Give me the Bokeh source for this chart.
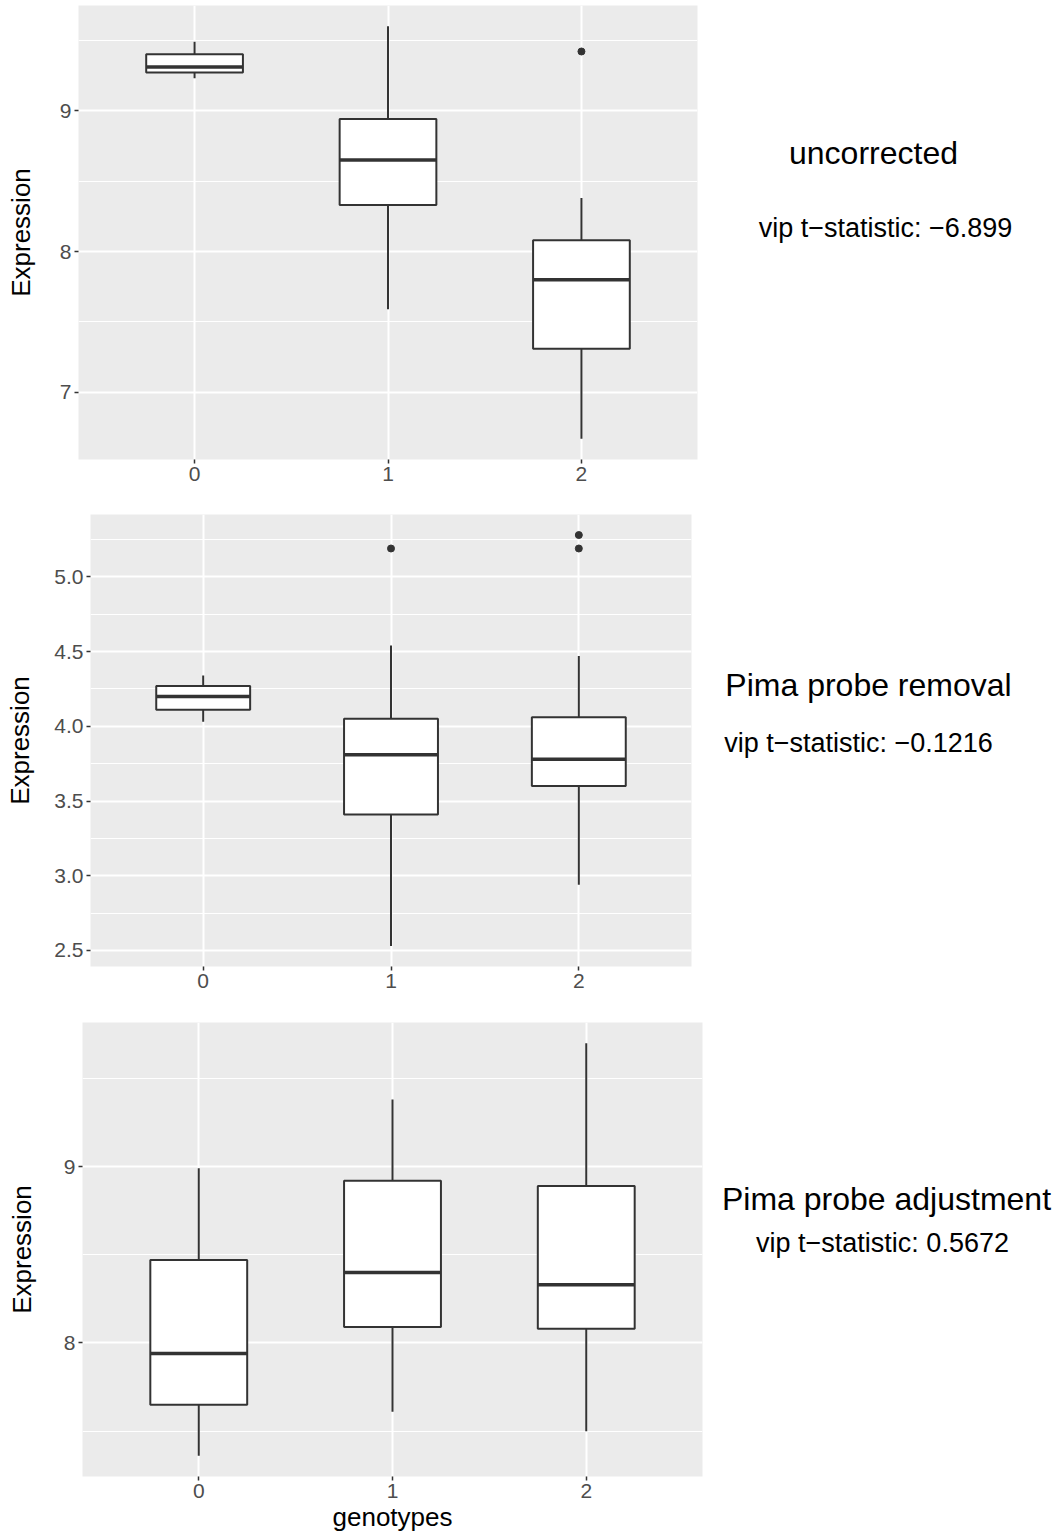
from bokeh.plotting import figure
from bokeh.layouts import column, row
from bokeh.models import FixedTicker, Range1d, Label, NumeralTickFormatter
from bokeh.embed import file_html
from bokeh.resources import INLINE

FONT = "Liberation Sans"
genotypes = [0, 1, 2]
tick_labels = ["0", "1", "2"]

# --- uncorrected expression summary per genotype ---
unc_lower = [9.23, 7.59, 6.67]
unc_q1 = [9.27, 8.33, 7.31]
unc_median = [9.31, 8.65, 7.80]
unc_q3 = [9.40, 8.94, 8.08]
unc_upper = [9.49, 9.60, 8.38]
unc_out_x = [2]
unc_out_y = [9.42]
unc_title = "uncorrected"
unc_stat = "vip t\u2212statistic: \u22126.899"

# --- after Pima probe removal ---
rem_lower = [4.03, 2.53, 2.94]
rem_q1 = [4.11, 3.41, 3.60]
rem_median = [4.20, 3.81, 3.78]
rem_q3 = [4.27, 4.05, 4.06]
rem_upper = [4.34, 4.54, 4.47]
rem_out_x = [1, 2, 2]
rem_out_y = [5.19, 5.19, 5.28]
rem_title = "Pima probe removal"
rem_stat = "vip t\u2212statistic: \u22120.1216"

# --- after Pima probe adjustment ---
adj_lower = [7.36, 7.61, 7.50]
adj_q1 = [7.65, 8.09, 8.08]
adj_median = [7.94, 8.40, 8.33]
adj_q3 = [8.47, 8.92, 8.89]
adj_upper = [8.99, 9.38, 9.70]
adj_out_x = []
adj_out_y = []
adj_title = "Pima probe adjustment"
adj_stat = "vip t\u2212statistic: 0.5672"

BOX_W = 0.5
PLOT_W = 706
TEXT_W = 1060 - PLOT_W


def box_panel(lower, q1, med, q3, upper, out_x, out_y, majors, minors, fmt,
              height, left, frame_w, top, bottom, label_standoff, xlabel=None):
    lo = min(lower + out_y)
    hi = max(upper + out_y)
    pad = (hi - lo) * 0.05
    p = figure(width=PLOT_W, height=height,
               x_range=Range1d(-0.6, 2.6), y_range=Range1d(lo - pad, hi + pad),
               output_backend="svg", toolbar_location=None,
               min_border_left=left, min_border_right=PLOT_W - left - frame_w,
               min_border_top=top, min_border_bottom=bottom)
    p.background_fill_color = "#EBEBEB"
    p.border_fill_color = "white"
    p.outline_line_color = None

    p.xaxis.ticker = FixedTicker(ticks=genotypes)
    p.xaxis.major_label_overrides = {g: t for g, t in zip(genotypes, tick_labels)}
    p.yaxis.ticker = FixedTicker(ticks=majors, minor_ticks=minors)
    p.yaxis.formatter = NumeralTickFormatter(format=fmt)

    for ax in (p.xaxis[0], p.yaxis[0]):
        ax.axis_line_color = None
        ax.major_tick_line_color = "#333333"
        ax.major_tick_line_width = 1.5
        ax.major_tick_out = 4
        ax.major_tick_in = 0
        ax.minor_tick_line_color = None
        ax.major_label_text_color = "#4D4D4D"
        ax.major_label_text_font = FONT
        ax.major_label_text_font_size = "21px"
        ax.major_label_standoff = 3
        ax.axis_label_text_font = FONT
        ax.axis_label_text_font_size = "26px"
        ax.axis_label_text_font_style = "normal"
        ax.axis_label_text_color = "black"

    p.yaxis.axis_label = "Expression"
    p.yaxis.axis_label_standoff = label_standoff
    if xlabel:
        p.xaxis.axis_label = xlabel
        p.xaxis.axis_label_standoff = 1

    p.xgrid.grid_line_color = "white"
    p.xgrid.grid_line_width = 2
    p.ygrid.grid_line_color = "white"
    p.ygrid.grid_line_width = 2
    p.ygrid.minor_grid_line_color = "white"
    p.ygrid.minor_grid_line_width = 1

    col = "#333333"
    p.segment(x0=genotypes, y0=q3, x1=genotypes, y1=upper, line_color=col, line_width=2)
    p.segment(x0=genotypes, y0=lower, x1=genotypes, y1=q1, line_color=col, line_width=2)
    p.vbar(x=genotypes, width=BOX_W, bottom=q1, top=q3,
           fill_color="white", line_color=col, line_width=2)
    p.segment(x0=[g - BOX_W / 2 for g in genotypes], y0=med,
              x1=[g + BOX_W / 2 for g in genotypes], y1=med,
              line_color=col, line_width=3.5)
    if out_x:
        p.scatter(x=out_x, y=out_y, size=7, color=col)
    return p


def text_panel(height, bottom, title, stat, tx, ty, sx, sy):
    # label positions are given as row-relative pixel centres; the frame of
    # this panel shares its bottom edge with the neighbouring box plot frame
    base = height - bottom
    t = figure(width=TEXT_W, height=height, output_backend="svg",
               toolbar_location=None, min_border=0,
               x_range=Range1d(0, 1), y_range=Range1d(0, 1))
    t.axis.visible = False
    t.grid.visible = False
    t.outline_line_color = None
    t.background_fill_color = "white"
    t.add_layout(Label(x=tx - PLOT_W, y=base - ty, x_units="screen", y_units="screen",
                       text=title, text_font=FONT, text_font_size="32px",
                       text_color="black", text_align="center", text_baseline="middle"))
    t.add_layout(Label(x=sx - PLOT_W, y=base - sy, x_units="screen", y_units="screen",
                       text=stat, text_font=FONT, text_font_size="27px",
                       text_color="black", text_align="center", text_baseline="middle"))
    return t


p1 = box_panel(unc_lower, unc_q1, unc_median, unc_q3, unc_upper, unc_out_x, unc_out_y,
               [7, 8, 9], [6.5, 7.5, 8.5, 9.5], "0",
               height=505, left=78, frame_w=619, top=5, bottom=46, label_standoff=21)
t1 = text_panel(505, 46, unc_title, unc_stat, 873, 152, 885, 227)

p2 = box_panel(rem_lower, rem_q1, rem_median, rem_q3, rem_upper, rem_out_x, rem_out_y,
               [2.5, 3.0, 3.5, 4.0, 4.5, 5.0], [2.25, 2.75, 3.25, 3.75, 4.25, 4.75, 5.25], "0.0",
               height=510, left=90, frame_w=601, top=9, bottom=49, label_standoff=16)
t2 = text_panel(510, 49, rem_title, rem_stat, 868, 684 - 505, 858, 742 - 505)

p3 = box_panel(adj_lower, adj_q1, adj_median, adj_q3, adj_upper, adj_out_x, adj_out_y,
               [8, 9], [7.5, 8.5, 9.5], "0",
               height=519, left=82, frame_w=620, top=7, bottom=58, label_standoff=24,
               xlabel="genotypes")
t3 = text_panel(519, 58, adj_title, adj_stat, 886, 1198 - 1015, 882, 1242 - 1015)

layout = column(row(p1, t1), row(p2, t2), row(p3, t3))

with open("out.html", "w") as f:
    f.write(file_html(layout, INLINE))
